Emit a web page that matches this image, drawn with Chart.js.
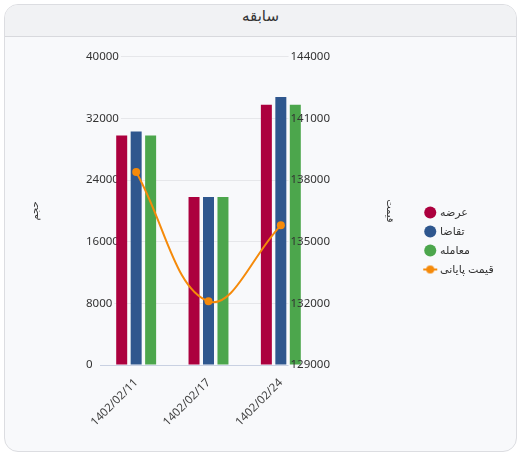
<!DOCTYPE html>
<html>
<head>
<meta charset="utf-8">
<script src="https://cdn.jsdelivr.net/npm/chart.js@4.4.1/dist/chart.umd.min.js"></script>
<style>
  html, body { margin: 0; padding: 0; background: #fff; }
  .card {
    position: absolute; left: 4px; top: 4px; width: 513px; height: 448px;
    box-sizing: border-box; border: 1px solid #dcdde1; border-radius: 14px;
    background: #f8f9fb; overflow: hidden;
  }
  .card-header {
    height: 32px; line-height: 33px; box-sizing: border-box;
    background: #f1f2f4; border-bottom: 1px solid #d8d9dd;
    text-align: center; font: 15px 'Noto Sans', 'DejaVu Sans', sans-serif; color: #333;
  }
  #chart { position: absolute; left: 5px; top: 37px; }
</style>
</head>
<body>
<div class="card"><div class="card-header" dir="rtl">سابقه</div></div>
<canvas id="chart" width="511" height="414"></canvas>
<script>
// data
const dates = ['1402/02/11', '1402/02/17', '1402/02/24'];
const supply = [29800, 21800, 33800];      // عرضه
const demand = [30300, 21800, 34800];      // تقاضا
const trades = [29800, 21800, 33800];      // معامله
const closePrice = [138400, 132100, 135800]; // قیمت پایانی
const volumeTicks = { min: 0, max: 40000, step: 8000 };
const priceTicks = { min: 129000, max: 144000, step: 3000 };

const BG = '#f8f9fb';
const txt = '#333';
const FONT = "'Noto Sans', 'DejaVu Sans', sans-serif";
Chart.defaults.font.family = FONT;
Chart.defaults.color = txt;

// legend icon for the line series: a short line with a dot
const lineIcon = document.createElement('canvas');
lineIcon.width = 16; lineIcon.height = 10;
(() => {
    const c = lineIcon.getContext('2d');
    c.strokeStyle = '#f58a0a'; c.lineWidth = 2;
    c.beginPath(); c.moveTo(1, 5); c.lineTo(15, 5); c.stroke();
    c.fillStyle = '#f58a0a';
    c.beginPath(); c.arc(8, 5, 4, 0, Math.PI * 2); c.fill();
})();

const legendLabels = ['عرضه', 'تقاضا', 'معامله', 'قیمت پایانی'];

const plain = v => String(v);

// give the legend a fixed width so its clip box never cuts the labels
const LEGEND_W = 90;
const legendWidth = {
    id: 'legendWidth',
    beforeLayout(chart) {
        const lg = chart.legend;
        if (lg && !lg.$wide) {
            const fit = lg.fit.bind(lg);
            lg.fit = function () { fit(); this.width = LEGEND_W; };
            lg.$wide = true;
        }
    }
};

new Chart(document.getElementById('chart'), {
    type: 'bar',
    data: {
        labels: dates,
        datasets: [
            { label: legendLabels[0], data: supply, backgroundColor: '#ac003e', yAxisID: 'y', order: 1 },
            { label: legendLabels[1], data: demand, backgroundColor: '#2f578e', yAxisID: 'y', order: 1 },
            { label: legendLabels[2], data: trades, backgroundColor: '#4ca64c', yAxisID: 'y', order: 1 },
            {
                type: 'line', label: legendLabels[3], data: closePrice, yAxisID: 'y1', order: 0,
                borderColor: '#f58a0a', backgroundColor: '#f58a0a', borderWidth: 2,
                pointRadius: 4, pointBackgroundColor: '#f58a0a', pointBorderWidth: 0,
                tension: 0.4, fill: false
            }
        ]
    },
    plugins: [legendWidth],
    options: {
        responsive: false,
        animation: false,
        categoryPercentage: 0.6,
        barPercentage: 0.76,
        layout: { padding: { left: 20, right: 511 - (20 + 75 + 217 + 101) - LEGEND_W, top: 18, bottom: 24 } },
        scales: {
            x: {
                grid: { display: false },
                border: { color: '#c9d1e2' },
                ticks: { minRotation: 45, maxRotation: 45, font: { size: 11.5 }, color: '#444', padding: 3 },
                afterFit: s => { s.height = 62; }
            },
            y: {
                position: 'left',
                min: volumeTicks.min, max: volumeTicks.max,
                grid: { color: '#e6e7ea', drawTicks: false },
                border: { display: false },
                title: { display: true, text: 'حجم', font: { size: 10 }, color: txt },
                ticks: {
                    stepSize: volumeTicks.step, callback: plain, mirror: true, padding: -14,
                    font: { size: 11.5 }, color: txt,
                    showLabelBackdrop: true, backdropColor: BG, backdropPadding: 2
                },
                afterFit: s => { s.width = 75; }
            },
            ym: {
                // invisible copy of the price ticks: clears the grid under the right labels
                position: 'right', weight: -1,
                min: priceTicks.min, max: priceTicks.max,
                grid: { display: false }, border: { display: false },
                ticks: {
                    stepSize: priceTicks.step, callback: plain, mirror: true, padding: 13,
                    font: { size: 11.5 }, color: 'rgba(0,0,0,0)',
                    showLabelBackdrop: true, backdropColor: BG, backdropPadding: 2
                },
                afterFit: s => { s.width = 0; }
            },
            y1: {
                position: 'right',
                min: priceTicks.min, max: priceTicks.max,
                grid: { display: false, drawTicks: false }, border: { display: false },
                title: { display: true, text: 'قیمت', font: { size: 10 }, color: txt, padding: { top: 22, bottom: 4 } },
                ticks: { stepSize: priceTicks.step, callback: plain, mirror: true, padding: 13, font: { size: 11.5 }, color: txt, z: 1 },
                afterFit: s => { s.width = 101; }
            }
        },
        plugins: {
            tooltip: { enabled: false },
            legend: {
                position: 'right',
                labels: {
                    usePointStyle: true, boxWidth: 8.5, boxHeight: 8.5, padding: 8,
                    font: { size: 11 }, color: txt,
                    generateLabels(chart) {
                        const items = Chart.defaults.plugins.legend.labels.generateLabels(chart);
                        items.sort((a, b) => a.datasetIndex - b.datasetIndex);
                        items.forEach(it => {
                            it.pointStyle = it.datasetIndex === 3 ? lineIcon : 'circle';
                        });
                        return items;
                    }
                }
            }
        }
    }
});
</script>
</body>
</html>
